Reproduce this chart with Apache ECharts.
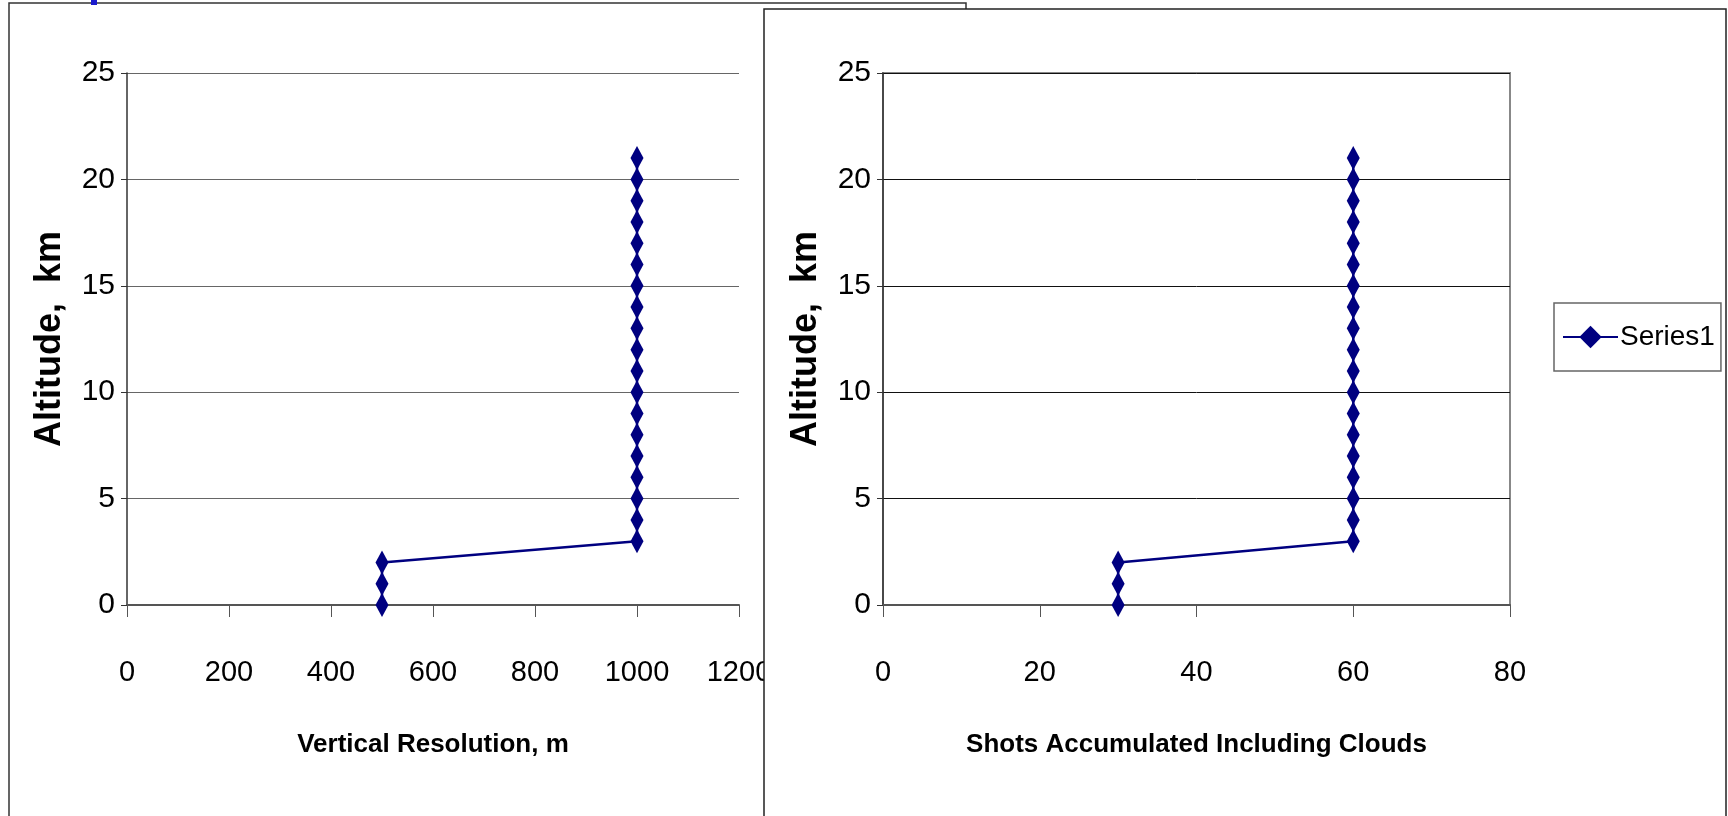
<!DOCTYPE html>
<html lang="en" style="height: 100%">
<head>
  <meta charset="utf-8">
</head>
<body style="height: 100%; margin: 0; background: #fff">
  <div id="container" style="width: 1728px; height: 816px"></div>

  <script type="text/javascript" src="https://fastly.jsdelivr.net/npm/echarts@6/dist/echarts.min.js"></script>
  <script type="text/javascript">
    var dom = document.getElementById('container');
    var myChart = echarts.init(dom, null, { renderer: 'canvas' });

    // altitude (km) of every point, bottom to top
    var altitude = [0, 1, 2, 3, 4, 5, 6, 7, 8, 9, 10, 11, 12, 13, 14, 15, 16, 17, 18, 19, 20, 21];
    // left panel: vertical resolution, m
    var resolution = [500, 500, 500, 1000, 1000, 1000, 1000, 1000, 1000, 1000, 1000,
                      1000, 1000, 1000, 1000, 1000, 1000, 1000, 1000, 1000, 1000, 1000];
    // right panel: shots accumulated including clouds
    var shots = [30, 30, 30, 60, 60, 60, 60, 60, 60, 60, 60,
                 60, 60, 60, 60, 60, 60, 60, 60, 60, 60, 60];

    var sans = "'Liberation Sans Narrow', 'Liberation Sans', Arial, sans-serif";
    var navy = '#000080';

    function pairs(xs) {
      return xs.map(function (x, i) { return [x, altitude[i]]; });
    }

    function plain(v) { return String(v); }

    function xAxisFor(idx, max, step, title) {
      return {
        type: 'value', gridIndex: idx, min: 0, max: max, interval: step,
        z: idx * 2,
        name: title, nameLocation: 'middle', nameGap: 127,
        nameTextStyle: { fontFamily: sans, fontWeight: 'bold', fontSize: 26, color: '#000' },
        axisLine: { onZero: false, lineStyle: { color: '#555', width: 2 } },
        axisTick: { length: 12, lineStyle: { color: '#555' } },
        axisLabel: { margin: 53, formatter: plain, fontFamily: sans, fontSize: 29, color: '#000' },
        splitLine: { show: false }
      };
    }

    function yAxisFor(idx, gridColor) {
      return {
        type: 'value', gridIndex: idx, min: 0, max: 25, interval: 5,
        z: idx * 2,
        name: 'Altitude,  km', nameLocation: 'middle', nameGap: 59,
        nameTextStyle: { fontFamily: sans, fontWeight: 'bold', fontSize: 36, color: '#000' },
        axisLine: { show: true, lineStyle: { color: '#333', width: 1.5 } },
        axisTick: { show: true, length: 6, lineStyle: { color: '#333' } },
        axisLabel: { margin: 12, formatter: plain, fontFamily: sans, fontSize: 30, color: '#000' },
        splitLine: { show: true, lineStyle: { color: gridColor, width: 1 } }
      };
    }

    function seriesFor(idx, xs) {
      return {
        name: 'Series1', type: 'line', xAxisIndex: idx, yAxisIndex: idx,
        z: 3 + idx * 2,
        data: pairs(xs),
        symbol: 'diamond', symbolSize: [13, 24],
        lineStyle: { color: navy, width: 2.5 },
        itemStyle: { color: navy },
        animation: false
      };
    }

    var option = {
      animation: false,
      graphic: [
        // left panel frame
        { type: 'rect', z: 0, shape: { x: 9, y: 3, width: 957, height: 830 },
          style: { fill: '#fff', stroke: '#333', lineWidth: 1.5 } },
        { type: 'rect', z: 0, shape: { x: 91, y: 0, width: 6, height: 5 },
          style: { fill: '#1a1acc' } },
        // right panel frame, drawn over the left one
        { type: 'rect', z: 1, shape: { x: 764, y: 9, width: 962, height: 830 },
          style: { fill: '#fff', stroke: '#222', lineWidth: 1.5 } }
      ],
      legend: {
        left: 1554, top: 303,
        padding: [20, 6, 20, 8],
        borderColor: '#666', borderWidth: 1.5,
        itemWidth: 55, itemHeight: 28, itemGap: 4,
        textStyle: { fontFamily: sans, fontSize: 28, color: '#000', padding: [0, 0, 0, -3] },
        data: ['Series1']
      },
      grid: [
        { left: 127, right: 1728 - 739, top: 73, bottom: 816 - 605,
          show: true, borderColor: '#888', borderWidth: 2, z: 0 },
        { left: 883, right: 1728 - 1510, top: 73, bottom: 816 - 605,
          show: true, borderColor: '#888', borderWidth: 2, z: 2 }
      ],
      xAxis: [
        xAxisFor(0, 1200, 200, 'Vertical Resolution, m'),
        xAxisFor(1, 80, 20, 'Shots Accumulated Including Clouds')
      ],
      yAxis: [
        yAxisFor(0, '#666'),
        yAxisFor(1, '#111')
      ],
      series: [
        seriesFor(0, resolution),
        seriesFor(1, shots)
      ]
    };

    myChart.setOption(option);
    window.addEventListener('resize', myChart.resize);
  </script>
</body>
</html>
